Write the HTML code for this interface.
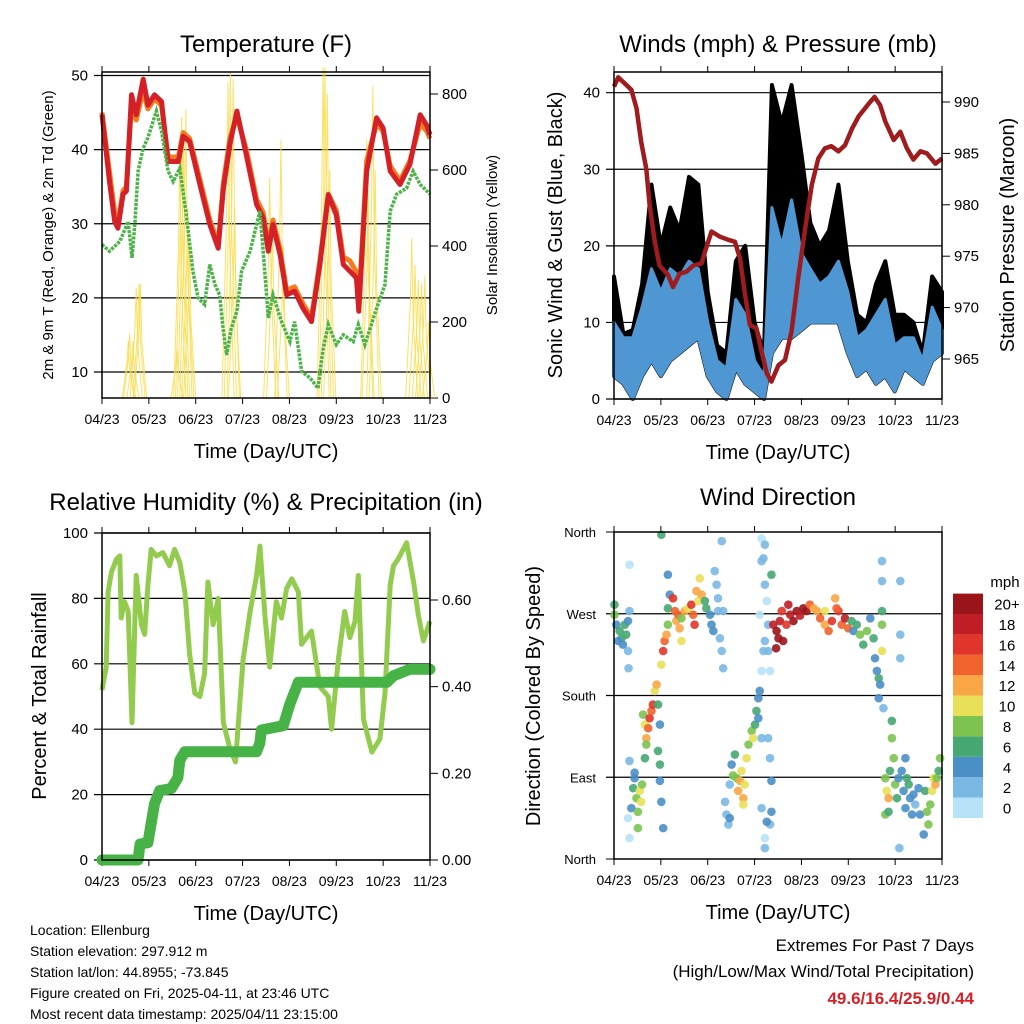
<!DOCTYPE html>
<html><head><meta charset="utf-8"><style>
html,body{margin:0;padding:0;background:#fff;}
svg{display:block;font-family:"Liberation Sans",sans-serif;}
</style></head><body>
<svg id="root" width="1024" height="1024" viewBox="0 0 1024 1024" xmlns="http://www.w3.org/2000/svg">
<rect width="1024" height="1024" fill="#fff"/>
<g id="p1"></g>
<g id="p2"></g>
<g id="p3"></g>
<g id="p4"></g>
<g id="info" font-size="14" fill="#000">
<text x="30" y="935">Location: Ellenburg</text>
<text x="30" y="956">Station elevation: 297.912 m</text>
<text x="30" y="977">Station lat/lon: 44.8955; -73.845</text>
<text x="30" y="998">Figure created on Fri, 2025-04-11, at 23:46 UTC</text>
<text x="30" y="1019">Most recent data timestamp: 2025/04/11 23:15:00</text>
</g>
<g text-anchor="end">
<text x="974" y="951" font-size="17">Extremes For Past 7 Days</text>
<text x="974" y="977" font-size="17">(High/Low/Max Wind/Total Precipitation)</text>
<text x="974" y="1004" font-size="17" font-weight="bold" fill="#d42027">49.6/16.4/25.9/0.44</text>
</g>
</svg>
<script>
const xTickLabels = ["04/23","05/23","06/23","07/23","08/23","09/23","10/23","11/23"];
// Temperature (months since 04/23, degF)
const tMonth = [0,0.16,0.27,0.34,0.45,0.52,0.63,0.73,0.88,0.98,1.12,1.27,1.41,1.63,1.73,1.87,2.09,2.3,2.48,2.59,2.73,2.88,3.08,3.3,3.44,3.55,3.65,3.8,3.94,4.11,4.29,4.47,4.65,4.83,5.0,5.15,5.29,5.43,5.48,5.65,5.86,6.0,6.15,6.36,6.57,6.79,6.93,7.0];
const tRed = [44.7,35.7,30.3,29.4,34,34.4,47.4,44.7,49.5,46,47.4,46.5,38.4,38.4,41.8,41.1,35.3,29.9,26.7,34.8,40.7,45.2,39.3,32.6,30.8,26.3,29.9,25.8,20.4,20.9,18.6,16.8,24.5,33.9,31.2,24.5,23.6,22.7,18.2,37.1,44.3,42.9,37.1,35.3,38,44.7,43.3,42];
const tOrange = [45,37,31.5,30,34.5,35,46,44,48,45.5,46.8,46,39,39,42.3,41.5,36,30.5,27.3,35.5,41.5,44.5,40,33.3,31.5,27,30.5,26.5,21,21.5,19.2,17.3,25,34,31.8,25.5,25,23.5,19,38.5,43.5,42.5,37.8,35.8,38.5,43.5,42.5,41.5];
const tdMonth = [0,0.16,0.38,0.56,0.64,0.7,0.77,0.88,0.98,1.16,1.27,1.41,1.52,1.66,1.8,1.94,2.05,2.19,2.3,2.41,2.51,2.59,2.66,2.76,2.88,2.98,3.16,3.37,3.44,3.55,3.65,3.83,4.01,4.11,4.26,4.44,4.61,4.72,4.83,5.0,5.15,5.36,5.47,5.61,5.86,6.04,6.15,6.29,6.5,6.64,6.79,7.0];
const tdVals = [27.2,26.3,27.6,30.3,25.4,29.9,37.1,40.2,41.6,45.2,42.5,37.1,35.7,37.5,31.2,23.6,20,19.1,24.5,21.8,20.4,15.5,12.3,15.9,18.2,23.6,26.3,31.7,26.3,17.3,20.4,16.8,14.1,16.8,10.1,9.2,7.8,13.2,16.4,13.7,15,14.1,16.4,13.7,18.6,21.8,31.7,34,34.8,37.1,35.3,34];
const solarMonth = [0.56,0.59,0.66,0.73,0.79,0.82,1.6,1.66,1.7,1.74,1.79,1.83,1.87,2.69,2.74,2.8,2.83,3.58,3.64,3.82,3.87,4.72,4.76,4.81,4.86,5.65,5.68,5.78,5.83,6.61,6.68,6.75,6.82,6.89,6.97];
const solarVals = [150,170,150,290,300,300,130,650,740,700,760,500,400,830,860,840,500,580,450,680,400,870,870,800,600,680,550,820,600,420,350,310,300,320,200];
// Winds & pressure
const wMonth = [0,0.2,0.4,0.6,0.8,1.0,1.2,1.4,1.6,1.8,2.0,2.2,2.4,2.6,2.8,3.0,3.2,3.37,3.58,3.79,4.0,4.19,4.39,4.59,4.79,4.99,5.19,5.39,5.59,5.79,5.99,6.19,6.39,6.59,6.79,7.0];
const windLo = [3,2,0,3,5,3,5,6,7,8,3,1,0,4,2,1,0,6,8,8,9,10,10,10,10,6,3,4,2,3,1,4,3,2,5,6];
const windHi = [10,8,8,12,17,14,17,16,18,17,10,5,4,13,11,5,3,25,20,26,19,17,15,16,18,14,8,9,11,13,7,8,8,5,12,9];
const gustHi = [16,8.5,9,15,28,20,25,22,29,28,14,7,6,18,20,10,6,41,36,41,32,23,20,22,28,18,11,10,15,18,11,11,10,6,16,14];
const pMonth = [0,0.09,0.23,0.37,0.48,0.58,0.69,0.76,0.87,0.97,1.15,1.26,1.4,1.55,1.69,1.87,1.94,2.08,2.26,2.44,2.58,2.69,2.79,2.9,3.04,3.15,3.26,3.36,3.51,3.65,3.79,3.93,4.08,4.22,4.36,4.5,4.64,4.79,4.93,5.08,5.22,5.43,5.56,5.68,5.79,5.97,6.11,6.25,6.39,6.54,6.68,6.86,7.0];
const pVals = [991.5,992.4,991.8,991.2,989.4,986.1,983.5,980,976.4,974.1,973.2,972,973.3,973.5,974.1,974.3,975.4,977.4,976.9,976.6,976.4,974.8,971.5,968.3,968,965.7,963.6,962.8,964.4,964.9,967.7,972.8,977.7,981.9,984.5,985.5,985.7,985.2,985.8,987.4,988.6,989.8,990.5,989.7,988.1,986.3,987.1,985.5,984.4,985.2,985,984,984.5];
// RH & precip
const rhMonth = [0,0.09,0.13,0.2,0.31,0.38,0.41,0.48,0.56,0.64,0.73,0.84,0.91,0.98,1.05,1.16,1.3,1.44,1.55,1.66,1.77,1.87,1.98,2.09,2.19,2.26,2.37,2.48,2.59,2.73,2.85,3.01,3.16,3.3,3.37,3.48,3.58,3.72,3.83,3.94,4.05,4.19,4.26,4.47,4.65,4.83,4.9,5.04,5.18,5.29,5.4,5.47,5.58,5.76,5.93,6.04,6.15,6.22,6.32,6.5,6.65,6.75,6.86,7.0];
const rhVals = [52,59,82,88,92,93,74,79,76,42,87,72,69,84,95,93,94,90,95,91,82,63,51,50,57,85,72,80,42,34,30,61,76,87,96,74,59,79,74,83,86,82,66,70,53,50,40,61,76,68,73,87,43,33,37,51,84,90,92,97,85,75,67,73];
const prMonth = [0,0.77,0.81,0.98,1.12,1.23,1.48,1.62,1.66,1.77,3.3,3.37,3.4,3.87,4.01,4.19,6.08,6.22,6.57,7.0];
const prVals = [0,0,0.037,0.04,0.13,0.16,0.165,0.19,0.23,0.25,0.25,0.27,0.30,0.31,0.36,0.41,0.41,0.425,0.44,0.44];
// Wind direction scatter
const dirMonth = [
.01,.01,.05,.12,.16,.23,.19,.3,.3,.33,.26,.09,.31,.33,
.3,.33,.37,.41,.44,.48,.51,.55,.58,.6,.51,.33,.44,
.62,.66,.69,.73,.76,.8,.83,.87,.91,.66,.69,.94,.98,.94,.98,1.01,1.05,.98,
1.01,1.05,1.08,1.12,1.15,1.15,1.19,1.15,1.26,1.3,1.33,1.37,1.4,1.44,1.44,1.51,1.58,1.65,1.69,1.72,1.76,1.8,1.83,1.87,1.94,1.01,
1.97,2.05,2.08,2.15,2.19,2.22,2.26,2.3,2.33,2.3,2.22,2.12,2.33,
2.37,2.4,2.44,2.47,2.51,2.58,2.62,2.65,2.69,2.72,2.76,2.79,2.83,2.87,2.94,2.97,3.01,3.04,3.08,3.08,3.11,3.15,2.47,2.54,2.76,3.29,3.33,3.36,
3.15,3.19,3.22,3.22,3.26,3.29,3.29,3.33,3.36,3.15,3.15,3.19,3.22,3.11,3.36,3.33,3.22,3.22,3.15,3.26,
3.4,3.47,3.51,3.54,3.61,3.68,3.76,3.83,3.9,3.97,4.04,4.11,4.18,4.26,4.33,4.4,4.5,4.58,4.65,4.72,4.79,4.86,4.93,5.0,5.07,3.46,3.72,3.58,4.5,4.75,
5.11,5.18,5.25,5.32,5.4,5.47,5.54,5.57,5.61,5.65,5.68,5.72,5.72,5.72,5.72,5.72,5.65,5.75,6.11,6.11,6.11,6.09,
5.79,5.82,5.86,5.89,5.93,5.93,5.97,6.0,6.04,6.07,6.14,6.18,6.22,6.25,6.29,6.32,6.36,6.39,6.43,6.5,6.53,6.61,6.64,6.68,6.71,6.75,6.79,6.82,6.86,6.89,6.93,6.96,6.22,5.79,5.86];
const dirDeg = [
280,269,258,251,243,258,236,262,229,273,247,240,210,324,
45,23,56,78,89,67,52,75,63,82,34,108,95,
159,148,133,144,155,163,170,185,192,111,126,170,148,119,86,63,34,104,
214,229,240,247,258,276,291,313,287,273,262,269,254,240,265,273,276,280,269,258,295,284,309,291,284,357,
276,269,258,317,302,273,243,229,210,350,287,251,273,
63,49,38,82,104,115,89,75,86,97,67,82,111,126,141,133,148,163,177,155,185,133,45,92,60,133,111,86,
353,331,346,302,284,258,229,207,313,328,207,229,240,269,52,38,23,12,56,41,
258,251,243,262,240,258,269,262,273,268,276,273,280,276,273,265,258,251,262,287,273,258,265,254,262,232,280,273,273,276,
251,258,247,236,251,265,243,221,207,199,192,258,273,229,306,328,177,166,306,221,247,12,
89,75,67,97,133,152,111,82,67,89,97,75,56,89,82,67,49,71,60,78,49,27,75,52,38,60,75,89,82,89,97,111,111,49,52];
const dirSpeed = [
6,8,4,6,6,6,4,4,2,2,6,4,2,0,
0,0,4,6,4,8,8,10,10,8,8,2,4,
8,10,12,14,16,14,16,10,12,6,8,6,4,6,4,4,4,6,
10,16,14,12,8,6,4,4,16,14,12,14,12,10,8,12,10,16,14,16,12,10,10,12,6,6,
6,4,4,2,2,2,2,2,2,2,2,4,2,
2,2,2,2,4,6,8,12,12,10,12,10,10,8,8,10,6,6,4,4,4,2,4,8,10,2,2,4,
0,2,2,2,0,2,2,0,6,2,0,2,2,0,4,2,0,2,2,4,
18,20,20,18,20,16,18,20,20,18,20,20,14,12,12,14,12,14,16,12,16,14,18,14,6,20,18,16,10,14,
4,6,8,6,8,4,6,4,4,6,4,8,6,10,2,2,4,2,2,2,2,2,
8,10,12,6,8,6,8,8,6,4,4,4,4,6,6,4,4,4,2,4,4,4,6,8,8,8,10,10,12,8,6,8,4,8,6];
const speedLabels = ["0","2","4","6","8","10","12","14","16","18","20+"];
const speedColors = ["#b8e2f8","#7ab8e4","#4a8fc6","#46a772","#7cc350","#e8e058","#f8a646","#f0632c","#e0352a","#c01e26","#9a1519"];

const NS="http://www.w3.org/2000/svg";
function mk(parent,tag,attrs,text){const e=document.createElementNS(NS,tag);for(const k in attrs)e.setAttribute(k,attrs[k]);if(text!==undefined)e.textContent=text;parent.appendChild(e);return e;}
function lin(d0,d1,r0,r1){return v=>r0+(v-d0)*(r1-r0)/(d1-d0);}
function pathOf(xs,ys,fx,fy){return xs.map((x,i)=>(i?'L':'M')+fx(x).toFixed(1)+','+fy(ys[i]).toFixed(1)).join('');}

function frame(g,L,R,T,B,title,tx,ty){
  const fx=lin(0,7,L,R);
  const t=mk(g,'text',{x:(L+R)/2,y:ty,'font-size':24,'text-anchor':'middle'},title);
  
  
  xTickLabels.forEach((lab,i)=>{
    const x=fx(i);
    const tk=mk(g,'line',{x1:x,x2:x,y1:B,y2:B+6,stroke:'#000'});
    
    
    mk(g,'line',{x1:x,x2:x,y1:T-6,y2:T,stroke:'#000'});
    const tl=mk(g,'text',{x:x,y:B+26,'font-size':14,'text-anchor':'middle'},lab);
    
    
  });
  const xt=mk(g,'text',{x:(L+R)/2,y:B+60,'font-size':20,'text-anchor':'middle'},'Time (Day/UTC)');
  
  
  return fx;
}
function border(g,L,R,T,B){const r=mk(g,'rect',{x:L,y:T,width:R-L,height:B-T,fill:'none',stroke:'#000','stroke-width':1.5});}
function leftTicks(g,vals,fy,L,R,grid,fmt){vals.forEach(v=>{const y=fy(v);if(grid){const gl=mk(g,'line',{x1:L-8,x2:R,y1:y,y2:y,stroke:'#000','stroke-width':1.2});}else mk(g,'line',{x1:L-8,x2:L,y1:y,y2:y,stroke:'#000'});const t=mk(g,'text',{x:L-14,y:y+5,'font-size':15,'text-anchor':'end'},fmt?fmt(v):v);});}
function rightTicks(g,vals,fy,R,fmt){vals.forEach(v=>{const y=fy(v);mk(g,'line',{x1:R,x2:R+8,y1:y,y2:y,stroke:'#000'});const t=mk(g,'text',{x:R+12,y:y+5,'font-size':15},fmt?fmt(v):v);});}
function vtitle(g,x,y,txt,size,name){const t=mk(g,'text',{x:0,y:0,'font-size':size,'text-anchor':'middle',transform:`translate(${x},${y}) rotate(-90)`},txt);}

// Panel 1
(function(){
  const g=document.getElementById('p1');const L=102,R=430,T=72,B=398;
  const fx=frame(g,L,R,T,B,'Temperature (F)',0,52);
  const fy=lin(10,50,372,75.5);const fs=lin(0,800,398,94);
  leftTicks(g,[10,20,30,40,50],fy,L,R,true);
  rightTicks(g,[0,200,400,600,800],fs,R);
  vtitle(g,53,235,'2m & 9m T (Red, Orange) & 2m Td (Green)',15,'y-axis-title');
  vtitle(g,497,235,'Solar Insolation (Yellow)',15,'y2-axis-title');
  solarMonth.forEach((m,i)=>{
    const p=mk(g,'path',{d:`M${fx(m-0.13)},${fs(0)}L${fx(m-0.03)},${fs(solarVals[i]*0.6)}L${fx(m)},${fs(solarVals[i])}L${fx(m+0.03)},${fs(solarVals[i]*0.5)}L${fx(m+0.13)},${fs(0)}`,fill:'none',stroke:'#f9dc4a','stroke-width':1,opacity:0.85});
    
    
  });
  const o=mk(g,'path',{d:pathOf(tMonth,tOrange,fx,fy),fill:'none',stroke:'#f47c20','stroke-width':5,'stroke-linejoin':'round'});
  
  const r=mk(g,'path',{d:pathOf(tMonth,tRed,fx,fy),fill:'none',stroke:'#d42027','stroke-width':5,'stroke-linejoin':'round'});
  
  const d=mk(g,'path',{d:pathOf(tdMonth,tdVals,fx,fy),fill:'none',stroke:'#4bb348','stroke-width':3.5,'stroke-dasharray':'3 1.2'});
  
  border(g,L,R,T,B);
})();

// Panel 2
(function(){
  const g=document.getElementById('p2');const L=614,R=942,T=72,B=399;
  const fx=frame(g,L,R,T,B,'Winds (mph) & Pressure (mb)',0,52);
  const fy=lin(0,40,399,92.7);const fp=lin(965,990,359,102);
  leftTicks(g,[0,10,20,30,40],fy,L,R,true);
  rightTicks(g,[965,970,975,980,985,990],fp,R);
  vtitle(g,562,235,'Sonic Wind & Gust (Blue, Black)',20,'y-axis-title');
  vtitle(g,1014,235,'Station Pressure (Maroon)',20,'y2-axis-title');
  let top=wMonth.map((m,i)=>fx(m)+','+fy(gustHi[i])).join(' ');
  let bot=wMonth.slice().reverse().map((m,j)=>{const i=wMonth.length-1-j;return fx(m)+','+fy(windLo[i]);}).join(' ');
  const gp=mk(g,'polygon',{points:top+' '+bot,fill:'#000',stroke:'#000','stroke-width':4,'stroke-linejoin':'round'});
  
  top=wMonth.map((m,i)=>fx(m)+','+fy(windHi[i])).join(' ');
  const bp=mk(g,'polygon',{points:top+' '+bot,fill:'#4f97d2',stroke:'#4f97d2','stroke-width':3,'stroke-linejoin':'round'});
  
  const p=mk(g,'path',{d:pathOf(pMonth,pVals,fx,fp),fill:'none',stroke:'#9e1b1e','stroke-width':4.5,'stroke-linejoin':'round'});
  
  border(g,L,R,T,B);
})();

// Panel 3
(function(){
  const g=document.getElementById('p3');const L=102,R=430,T=533,B=860;
  const fx=frame(g,L,R,T,B,'Relative Humidity (%) & Precipitation (in)',0,510);
  const fy=lin(0,100,860,533);const fr=lin(0,0.6,860,600);
  leftTicks(g,[0,20,40,60,80,100],fy,L,R,true);
  rightTicks(g,[0,0.2,0.4,0.6],fr,R,v=>v.toFixed(2));
  vtitle(g,46,696,'Percent & Total Rainfall',20,'y-axis-title');
  const rh=mk(g,'path',{d:pathOf(rhMonth,rhVals,fx,fy),fill:'none',stroke:'#92cb4e','stroke-width':5,'stroke-linejoin':'round'});
  
  const pr=mk(g,'path',{d:pathOf(prMonth,prVals,fx,fr),fill:'none',stroke:'#47b347','stroke-width':11,'stroke-linejoin':'round','stroke-linecap':'round'});
  
  border(g,L,R,T,B);
})();

// Panel 4
(function(){
  const g=document.getElementById('p4');const L=614,R=942,T=532,B=859;
  const fx=frame(g,L,R,T,B,'Wind Direction',0,505);
  const fy=lin(0,360,859,532);
  const dirs=[[0,'North'],[90,'East'],[180,'South'],[270,'West'],[360,'North']];
  dirs.forEach(([v,lab])=>{const y=fy(v);if(v>0&&v<360){const gl=mk(g,'line',{x1:L-8,x2:R,y1:y,y2:y,stroke:'#000','stroke-width':1.2});}else mk(g,'line',{x1:L-8,x2:L,y1:y,y2:y,stroke:'#000'});const t=mk(g,'text',{x:L-18,y:y+5,'font-size':13,'text-anchor':'end'},lab);});
  vtitle(g,540,696,'Direction (Colored By Speed)',20,'y-axis-title');
  dirMonth.forEach((m,i)=>{
    const ci=Math.min(10,Math.round(dirSpeed[i]/2));
    const c=mk(g,'circle',{cx:fx(m),cy:fy(dirDeg[i]),r:4.3,fill:speedColors[ci],opacity:0.9});
    
    
  });
  border(g,L,R,T,B);
  const mp=mk(g,'text',{x:1005,y:587,'font-size':15,'text-anchor':'middle'},'mph');
  
  speedLabels.forEach((lab,i)=>{
    const y=818-(i+1)*20.4;
    const b=mk(g,'rect',{x:953,y:y,width:30,height:20.4,fill:speedColors[i]});
    
    const t=mk(g,'text',{x:1007,y:y+16,'font-size':15,'text-anchor':'middle'},lab);
    
  });
})();
</script>
</body></html>
